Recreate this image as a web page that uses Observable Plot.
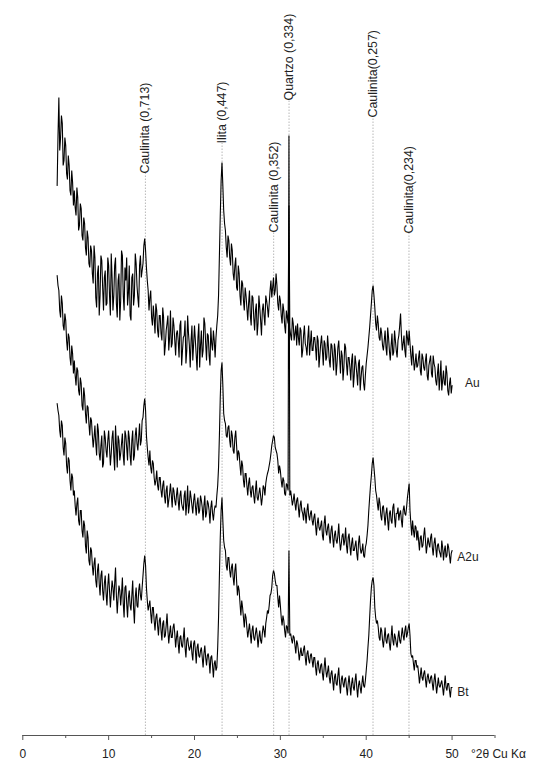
<!DOCTYPE html>
<html><head><meta charset="utf-8">
<script src="https://cdn.jsdelivr.net/npm/d3@7"></script>
<script src="https://cdn.jsdelivr.net/npm/@observablehq/plot@0.6"></script>
<style>html,body{margin:0;padding:0;background:#fff;overflow:hidden}</style>
</head><body><div id="chart"></div>
<script>
// 2θ sampling of the read-off traces: readings at 4.0, 4.2 ... 50.0 and in between at 4.1, 4.3 ... 49.9
const twoThetaStart = 4.0;
const twoThetaStep = 0.2;
const twoThetaStartB = 4.1;

// Intensity (a.u., stacked with offsets as in the figure)
const au = [
550,638,598,612,575,590,556,570,540,553,
545,520,538,510,527,495,512,480,498,468,
485,452,478,428,470,440,475,425,465,432,
470,420,458,440,478,418,462,435,480,425,
455,430,470,415,462,440,472,438,470,458,
472,497,468,445,438,418,430,402,425,398,
420,395,418,390,412,385,425,392,410,380,
405,378,415,385,400,372,420,390,395,375,
410,380,398,368,405,385,412,375,400,370,
392,405,378,410,440,520,573,525,505,478,
495,470,485,455,478,445,462,430,452,425,
440,415,445,410,438,405,432,412,428,400,
432,410,435,418,445,438,458,445,450,425,
435,412,425,402,418,530,400,418,395,410,
412,390,405,385,410,388,398,380,405,385,
398,375,395,380,400,370,392,378,388,368,
390,365,385,372,395,362,380,368,388,360,
378,355,382,360,372,350,376,358,370,345,
372,388,408,432,450,428,405,412,395,402,
385,405,380,398,375,402,383,395,378,400,
422,385,400,378,398,405,380,390,365,382,
370,385,360,378,365,382,355,375,362,380,
368,350,372,358,345,365,350,362,340,358,
350];
const auB = [
600,585,620,570,598,562,580,545,565,530,
528,548,505,532,500,518,488,505,472,490,
462,490,438,462,420,480,448,458,430,478,
440,482,425,470,432,455,415,485,440,468,
478,442,420,458,430,482,450,428,480,465,
490,485,455,425,445,410,418,432,405,420,
402,428,380,405,420,398,388,418,395,402,
395,410,370,398,415,385,402,368,410,392,
395,365,412,390,378,418,392,402,380,408,
385,395,398,420,480,555,550,512,488,500,
478,492,462,470,448,470,440,455,435,448,
428,432,420,440,418,425,400,440,415,425,
420,440,428,432,455,448,440,462,432,440,
420,432,410,425,412,408,395,412,402,390,
398,408,378,400,392,380,410,392,385,398,
388,400,368,392,385,395,375,400,375,392,
378,392,360,388,378,385,355,392,372,378,
368,375,348,380,362,372,345,368,352,360,
380,398,420,445,440,412,420,398,408,390,
395,388,408,385,390,380,405,385,395,410,
400,392,385,405,390,392,370,378,372,368,
378,365,382,368,375,360,370,380,358,372,
355,362,345,375,355,352,370,345,352,342];

const a2u = [
460,445,418,432,405,415,385,398,370,382,
375,350,365,340,352,325,340,312,328,300,
315,288,310,280,305,275,300,272,298,278,
305,270,298,280,310,268,295,282,302,270,
300,275,298,270,305,280,308,285,312,295,
318,337,300,278,285,262,272,250,265,245,
258,238,255,232,250,235,252,228,245,230,
248,225,245,228,240,220,250,230,238,222,
242,220,238,225,235,215,240,222,232,212,
235,215,230,240,268,338,373,322,312,298,
310,288,300,282,305,275,282,260,270,248,
262,240,258,238,250,232,255,235,248,230,
250,240,258,265,275,290,300,288,282,262,
265,248,255,240,250,600,245,230,242,225,
238,218,235,222,228,212,232,215,225,210,
222,200,218,205,215,195,220,200,212,192,
210,188,205,192,212,185,200,190,208,182,
202,180,198,185,195,175,200,182,192,178,
192,210,238,260,278,258,240,225,232,215,
230,210,228,205,225,212,232,208,222,215,
225,208,230,220,238,252,212,215,198,208,
205,185,200,190,208,182,198,188,202,180,
198,178,192,182,195,175,190,180,188,172,
185];
const a2uB = [
450,425,440,410,422,395,402,378,390,362,
360,368,345,358,330,348,322,330,312,318,
300,298,292,312,282,290,268,305,285,295,
288,282,305,265,290,300,275,292,280,305,
288,305,280,295,275,300,292,298,290,315,
330,325,288,270,268,275,258,255,250,258,
245,250,240,245,228,242,240,248,235,240,
235,240,232,225,245,232,222,245,230,235,
230,232,222,240,228,230,218,235,225,228,
222,225,228,250,300,365,350,315,300,308,
295,305,285,298,290,285,270,275,255,262,
250,252,245,248,240,245,238,242,240,238,
248,252,262,270,282,295,298,285,275,270,
255,258,242,252,245,240,238,235,232,235,
228,230,225,215,222,225,220,222,215,218,
210,212,208,210,200,212,205,208,200,205,
198,200,195,200,195,192,202,195,190,198,
190,192,185,190,182,192,188,185,180,188,
200,225,250,272,268,245,232,238,220,228,
220,222,215,222,215,228,218,222,228,222,
215,225,222,228,245,225,200,205,210,195,
195,198,188,200,195,190,192,198,188,192,
188,190,185,178,188,185,178,192,180,182];

const bt = [
332,320,298,310,280,292,262,275,245,258,
245,220,238,210,225,198,210,182,198,170,
185,160,178,148,172,140,165,135,160,130,
162,128,155,135,168,122,150,130,158,118,
150,118,145,125,155,112,148,128,152,135,
160,180,148,125,135,112,128,105,122,100,
118,95,115,100,122,92,110,98,112,88,
105,82,100,88,108,78,98,85,95,75,
95,72,92,78,88,68,90,70,82,62,
80,58,75,68,118,198,238,195,185,165,
178,158,172,150,172,140,145,120,128,108,
118,98,112,92,110,95,108,88,105,92,
110,98,118,122,140,148,165,155,150,128,
130,110,115,98,108,185,102,92,98,82,
92,75,88,80,90,70,85,72,82,68,
78,60,75,62,72,55,78,58,70,52,
65,45,62,50,68,42,60,48,58,40,
60,40,58,45,62,38,55,42,60,48,
65,88,118,148,158,128,112,108,95,105,
88,108,92,102,85,110,90,98,88,105,
92,108,95,110,102,112,82,80,65,75,
70,52,68,55,65,48,62,52,60,45,
62,42,58,48,55,40,60,45,52,38,
48];
const btB = [
325,305,315,288,298,270,278,255,262,240,
230,232,215,225,205,215,190,205,175,188,
170,172,155,165,152,160,145,152,142,150,
145,142,148,152,140,138,145,142,132,148,
132,138,130,140,128,138,130,145,140,148,
172,170,135,130,122,128,115,118,110,115,
105,112,98,110,105,102,98,108,102,98,
92,98,90,98,88,95,90,88,82,92,
85,88,80,85,78,82,78,80,75,78,
70,72,65,88,160,225,215,188,170,178,
165,168,158,165,155,150,132,135,118,122,
108,105,102,105,98,102,100,98,95,102,
105,112,125,130,142,160,162,150,138,140,
118,120,105,110,102,100,96,100,90,95,
85,82,80,86,78,82,76,80,75,78,
68,72,66,70,62,68,65,64,58,62,
55,58,52,60,52,56,52,56,48,52,
50,52,48,55,48,50,48,52,50,55,
75,100,135,155,150,118,115,98,108,95,
98,95,100,92,98,95,102,92,98,95,
100,100,105,98,108,100,78,72,75,68,
62,60,58,62,56,58,55,58,52,55,
52,50,50,52,48,50,48,52,45,48];

const seriesNames = ["Au", "A2u", "Bt"];
const seriesLabelAngle = [51.5, 50.6, 50.6];
const seriesLabelLevel = [352, 178, 43];

const peakNames = ["Caulinita (0,713)", "Ilita (0,447)", "Caulinita (0,352)", "Quartzo (0,334)", "Caulinita(0,257)", "Caulinita(0,234)"];
const peakAngles = [14.28, 23.21, 29.22, 31.01, 40.79, 44.98];
const peakLabelLevels = [562, 592, 503, 635, 618, 502];

const xMajorTicks = [0, 10, 20, 30, 40, 50];
const xMinorTicks = [5, 15, 25, 35, 45, 55];
const xAxisLabel = "°2θ Cu Kα";

// build tables
const traces = [[au, auB], [a2u, a2uB], [bt, btB]];
const rows = [];
traces.forEach(([main, mid], s) => {
  const pts = [];
  main.forEach((v, i) => pts.push({series: seriesNames[s], angle: +(twoThetaStart + i * twoThetaStep).toFixed(2), intensity: v}));
  mid.forEach((v, i) => pts.push({series: seriesNames[s], angle: +(twoThetaStartB + i * twoThetaStep).toFixed(2), intensity: v}));
  pts.sort((a, b) => a.angle - b.angle);
  rows.push(...pts);
});
const peaks = peakNames.map((n, i) => ({name: n, angle: peakAngles[i], level: peakLabelLevels[i]}));
const sLabels = seriesNames.map((n, i) => ({name: n, angle: seriesLabelAngle[i], level: seriesLabelLevel[i]}));

const font = "'Liberation Sans', Arial, sans-serif";
const chart = Plot.plot({
  width: 536,
  height: 761,
  marginTop: 0,
  marginBottom: 26,
  marginLeft: 22.3,
  marginRight: 41.5,
  style: {fontFamily: font, fontSize: "12px", color: "#222", background: "#fff"},
  x: {domain: [0, 55], axis: null},
  y: {domain: [0, 735], axis: null},
  marks: [
    Plot.ruleX(peaks, {x: "angle", y1: 0, y2: "level", stroke: "#b8b8b8", strokeWidth: 1, strokeDasharray: "1.5,1.5"}),
    Plot.text(peaks, {x: "angle", y: "level", text: "name", rotate: -90, textAnchor: "start", lineAnchor: "middle", fontSize: 12.4, fill: "#222"}),
    Plot.line(rows, {x: "angle", y: "intensity", z: "series", stroke: "#000", strokeWidth: 1.1, strokeLinejoin: "miter", strokeMiterlimit: 2, curve: "linear"}),
    Plot.text(sLabels, {x: "angle", y: "level", text: "name", textAnchor: "start", fontSize: 12, fill: "#222"}),
    Plot.ruleY([0], {stroke: "#555", strokeWidth: 1}),
    Plot.axisX(xMajorTicks, {anchor: "bottom", tickSize: 5, tickPadding: 9, stroke: "#555", fill: "#222", fontSize: 12, label: null}),
    Plot.axisX(xMinorTicks, {anchor: "bottom", tickSize: 3, text: null, stroke: "#555", label: null}),
    Plot.text([xAxisLabel], {x: 52.2, y: -19, text: d => d, textAnchor: "start", lineAnchor: "middle", fontSize: 12, fill: "#222"})
  ]
});
document.getElementById("chart").appendChild(chart);
</script>
</body></html>
